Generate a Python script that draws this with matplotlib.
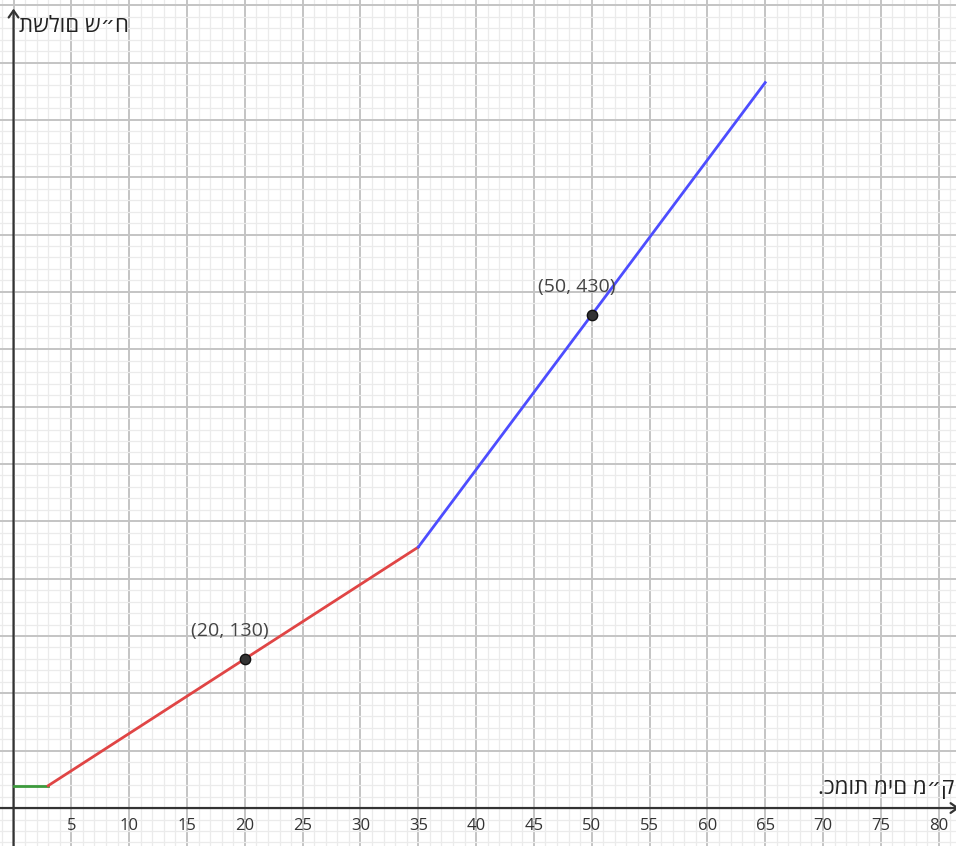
import matplotlib.pyplot as plt
from matplotlib.ticker import MultipleLocator

plt.rcParams["font.family"] = ["Open Sans", "DejaVu Sans"]

# piecewise water bill: fixed part, then two tariff segments
GREEN_X = [0, 3]
GREEN_Y = [19.5, 19.5]
RED_X = [3, 35]
RED_Y = [19.5, 227.5]
BLUE_X = [35, 65]
BLUE_Y = [227.5, 632.5]

POINTS_X = [20, 50]
POINTS_Y = [130, 430]
POINT_LABELS = ["(20, 130)", "(50, 430)"]

XTICKS = [5, 10, 15, 20, 25, 30, 35, 40, 45, 50, 55, 60, 65, 70, 75, 80]

X_LABEL = ".כמות מים מ״ק"
Y_LABEL = "תשלום ש״ח"


def main() -> None:
    fig = plt.figure(figsize=(9.56, 8.46), dpi=100)
    ax = fig.add_axes([0, 0, 1, 1])
    ax.set_xlim(-1.17, 81.5)
    ax.set_ylim(-33.1, 704.5)

    ax.xaxis.set_major_locator(MultipleLocator(5))
    ax.xaxis.set_minor_locator(MultipleLocator(1))
    ax.yaxis.set_major_locator(MultipleLocator(50))
    ax.yaxis.set_minor_locator(MultipleLocator(10))
    ax.grid(True, which="major", color="#c4c4c4", lw=1.4)
    ax.grid(True, which="minor", color="#ebebeb", lw=0.9)
    ax.set_axisbelow(True)
    ax.tick_params(which="both", length=0, labelbottom=False, labelleft=False)
    for s in ax.spines.values():
        s.set_visible(False)

    # axes drawn as arrows
    arrow = dict(arrowstyle="->,head_length=0.5,head_width=0.35",
                 color="#333333", lw=1.6, shrinkA=0, shrinkB=0)
    ax.annotate("", xy=(0, 697), xytext=(0, -40), arrowprops=arrow, zorder=2,
                annotation_clip=False)
    ax.annotate("", xy=(81.8, 0), xytext=(-2, 0), arrowprops=arrow, zorder=2,
                annotation_clip=False)

    for x in XTICKS:
        ax.text(x, -16, str(x), ha="center", va="center", fontsize=12,
                color="#333333")

    ax.plot(GREEN_X, GREEN_Y, color="#3c9a3c", lw=2, zorder=3)
    ax.plot(RED_X, RED_Y, color="#e04545", lw=2, zorder=3)
    ax.plot(BLUE_X, BLUE_Y, color="#4d4dff", lw=2, zorder=3)

    ax.scatter(POINTS_X, POINTS_Y, s=55, color="#333333", edgecolor="#111111",
               zorder=4)
    for x, y, lab in zip(POINTS_X, POINTS_Y, POINT_LABELS):
        ax.annotate(lab, xy=(x, y), xytext=(-11, 20), textcoords="offset points",
                    ha="center", va="center", fontsize=14, color="#444444")

    ax.text(0.5, 681, Y_LABEL, ha="left", va="center", fontsize=16,
            color="#222222")
    ax.text(81.4, 8, X_LABEL, ha="right", va="bottom", fontsize=16,
            color="#222222")

    fig.savefig("out.png", dpi=100)


if __name__ == "__main__":
    main()
